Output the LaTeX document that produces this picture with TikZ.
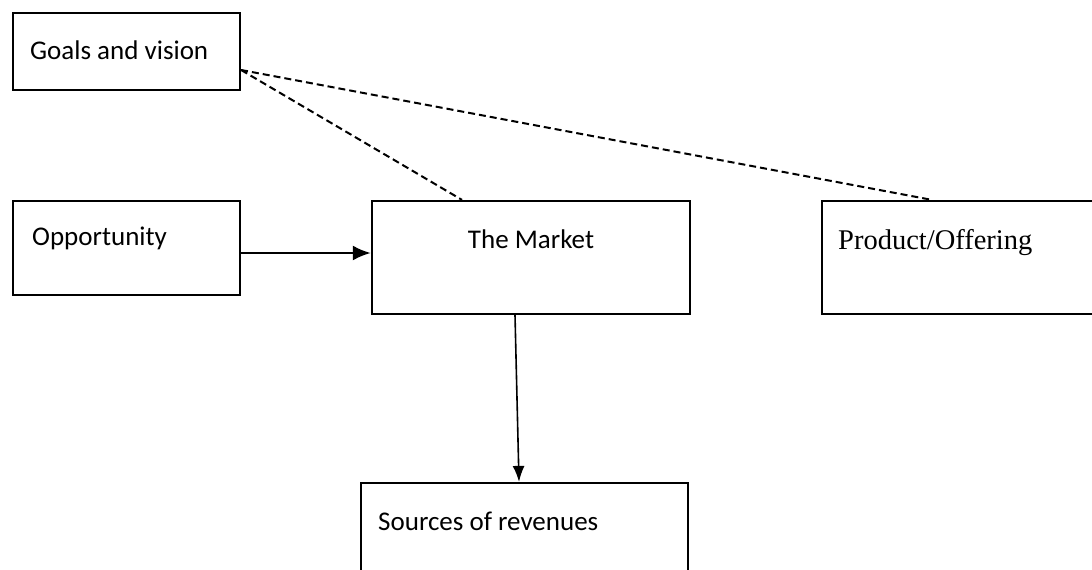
\documentclass[tikz,border=0pt]{standalone}
\usepackage{fontspec}
\setmainfont{Carlito}
\newfontfamily\serifface{Liberation Serif}
\usetikzlibrary{arrows.meta}
\tikzset{
  blockbox/.style={draw, line width=2.2pt, minimum width=#1, inner sep=0pt},
  blocktext/.style={anchor=west, inner sep=0pt, font=\fontsize{27}{31}\selectfont},
  dashlink/.style={line width=2pt, dash pattern=on 7pt off 4pt}
}
\begin{document}
\begin{tikzpicture}[x=1pt, y=-1pt, >={Latex[length=18pt,width=15pt]}]
\useasboundingbox (0,0) rectangle (1092,570);

\node[blockbox=227pt, minimum height=77pt] (goals) at (126.5,51.5) {};
\node[blockbox=227pt, minimum height=94pt] (opp) at (126.5,248) {};
\node[blockbox=318pt, minimum height=113pt] (market) at (531,257.5) {};
\node[blockbox=290pt, minimum height=113pt] (product) at (967,257.5) {};
\node[blockbox=327pt, minimum height=110pt] (sources) at (524.5,538) {};

\node[blocktext] (goalstext) at (30,50) {Goals and vision};
\node[blocktext] (opptext) at (32,238) {Opportunity};
\node[blocktext, anchor=center] (markettext) at (531,239) {The Market};
\node[blocktext, font=\serifface\fontsize{28.5}{32}\selectfont] (producttext) at (838,243) {Product/Offering};
\node[blocktext] (sourcestext) at (378,521) {Sources of revenues};

% dashed links from the goals box
\draw[dashlink] ([yshift=-18.5pt]goals.east) -- ([xshift=-69pt]market.north);
\draw[dashlink] ([yshift=-18.5pt]goals.east) -- ([xshift=-35pt]product.north);

\draw[->, line width=2.5pt] ([yshift=-5pt]opp.east) -- ([yshift=-5pt]opp.east -| market.west);
\draw[->, line width=1.6pt, >={Latex[length=16pt,width=12pt]}] ([xshift=-16pt]market.south) -- ([xshift=-5.5pt]sources.north);

\end{tikzpicture}
\end{document}
